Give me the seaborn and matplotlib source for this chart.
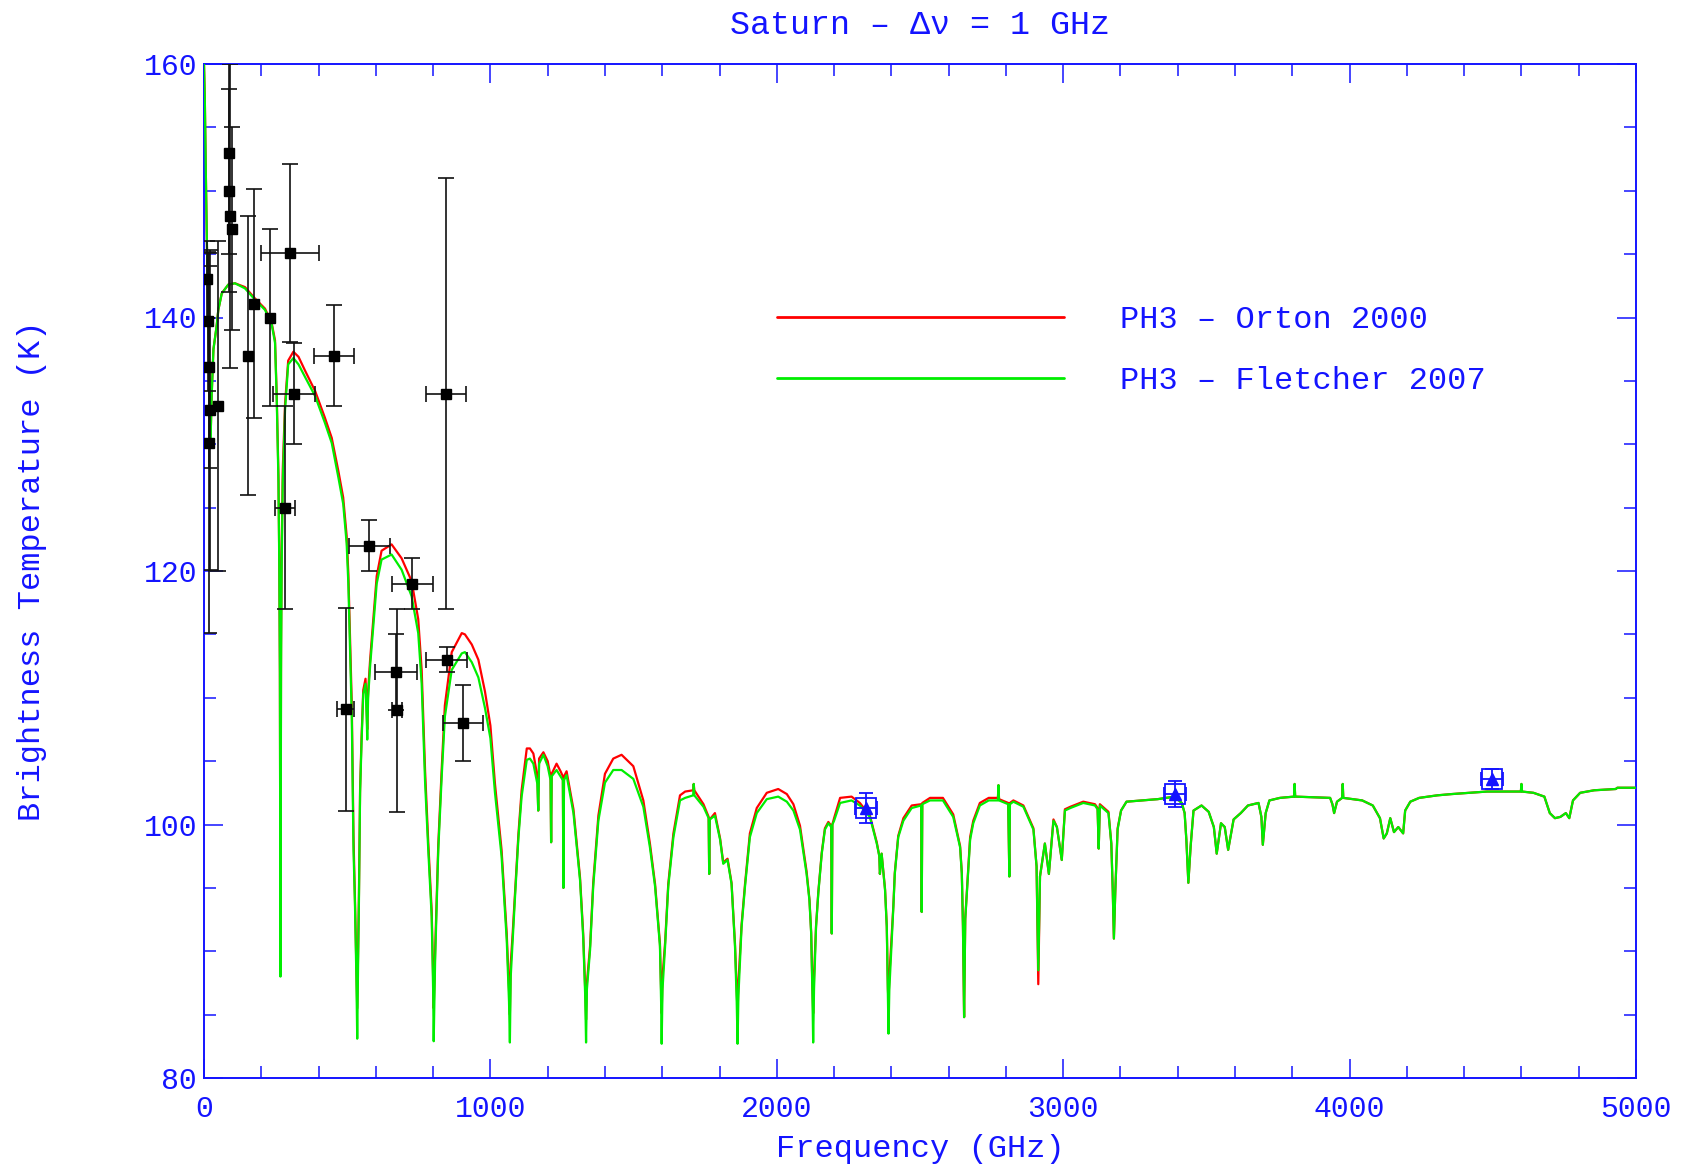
import matplotlib
matplotlib.use("Agg")
import matplotlib.pyplot as plt
import numpy as np
import pandas as pd
import seaborn as sns
from matplotlib.ticker import MultipleLocator

# ---------------- data ----------------
freq_ghz = [0, 3, 6, 10, 15, 20, 23, 27, 33, 44, 50, 62, 85, 108, 143, 178, 213, 236, 248, 254,
            260, 263, 265, 266, 267, 268, 269, 271, 275, 283, 294, 312, 330, 353, 388, 422, 446, 469, 486, 498,
            504, 510, 516, 522, 527, 532, 535, 538, 541, 545, 550, 556, 564, 568, 570, 573, 580, 603, 620, 655,
            690, 725, 748, 760, 772, 783, 795, 800, 802, 805, 807, 818, 830, 841, 865, 900, 911, 935, 958, 981,
            1000, 1016, 1039, 1057, 1065, 1068, 1071, 1078, 1086, 1098, 1109, 1127, 1138, 1150, 1164, 1167, 1170, 1185, 1200, 1210,
            1212, 1214, 1231, 1245, 1253, 1255, 1257, 1266, 1290, 1313, 1324, 1331, 1334, 1337, 1348, 1359, 1377, 1400, 1429, 1458,
            1499, 1534, 1557, 1575, 1592, 1596, 1598, 1601, 1610, 1621, 1639, 1662, 1680, 1708, 1710, 1712, 1744, 1762, 1764, 1766,
            1784, 1802, 1813, 1828, 1842, 1854, 1860, 1863, 1866, 1877, 1889, 1906, 1930, 1965, 2005, 2035, 2058, 2081, 2104, 2114,
            2120, 2124, 2127, 2130, 2137, 2145, 2157, 2168, 2180, 2190, 2192, 2194, 2200, 2221, 2261, 2290, 2325, 2349, 2358, 2360,
            2366, 2378, 2384, 2388, 2390, 2393, 2407, 2412, 2424, 2442, 2471, 2504, 2506, 2508, 2535, 2580, 2616, 2640, 2646, 2650,
            2654, 2658, 2675, 2686, 2709, 2740, 2772, 2774, 2776, 2808, 2812, 2814, 2826, 2861, 2896, 2907, 2913, 2919, 2936, 2950,
            2966, 2978, 2995, 3006, 3025, 3070, 3111, 3120, 3124, 3128, 3158, 3168, 3173, 3177, 3182, 3190, 3202, 3221, 3330, 3389,
            3414, 3424, 3430, 3437, 3445, 3455, 3483, 3508, 3526, 3536, 3551, 3564, 3576, 3595, 3620, 3645, 3682, 3692, 3697, 3707,
            3720, 3757, 3806, 3808, 3810, 3932, 3940, 3946, 3956, 3974, 3976, 3978, 4044, 4081, 4106, 4119, 4130, 4142, 4155, 4170,
            4187, 4194, 4212, 4243, 4306, 4356, 4480, 4598, 4600, 4602, 4642, 4680, 4699, 4717, 4736, 4755, 4767, 4780, 4805, 4854,
            4929, 4935, 5000]

tb_fletcher = [160, 157, 152, 146, 140, 133, 130.5, 134, 137.5, 139.3, 140.6, 141.9, 142.6, 142.7, 142.3, 141.4, 140.6, 139.5, 138, 133.5,
               127, 120, 112, 100, 88, 100, 112, 120, 127, 132.7, 136.3, 136.8, 136.3, 135.3, 133.8, 131.7, 130.1, 127.4, 125.3, 122.2,
               119, 113.8, 108.5, 98, 93.8, 88, 83.1, 89, 94, 102.5, 106.4, 110.3, 111.1, 108.5, 106.7, 110, 112.5, 119, 120.9, 121.3,
               120.1, 118, 115.1, 111.1, 103.3, 98, 92.7, 87, 82.9, 87, 89.3, 98, 103.8, 108.5, 112.2, 113.5, 113.6, 112.8, 111.6, 109.2,
               106.8, 102.5, 97.5, 90.9, 86, 82.8, 88, 91, 94.3, 99, 102.2, 105.1, 105.2, 104.8, 103.2, 101.1, 104.8, 105.5, 104.6, 103.5,
               98.6, 103.8, 104.3, 103.8, 103.5, 95, 103.5, 103.9, 100.9, 95.6, 91.1, 86.5, 82.8, 87, 90.1, 95.1, 100.3, 103.3, 104.3, 104.3,
               103.6, 101.4, 98.2, 95.1, 90.4, 86, 82.7, 87, 90.4, 95.1, 99, 101.9, 102.1, 102.3, 103.2, 102.3, 101.4, 100.5, 96.1, 100.4,
               100.7, 98.8, 96.9, 97.2, 95.3, 90.4, 86, 82.7, 86.5, 91.9, 95.1, 99, 100.9, 102, 102.2, 101.8, 101.1, 99.6, 96.1, 94,
               91.4, 87, 82.8, 87, 91.9, 94.6, 97.7, 99.6, 100.1, 99.8, 91.4, 100, 100.3, 101.7, 101.9, 101.5, 100.6, 98.5, 97.5, 96.1,
               97.7, 94.8, 91.9, 86, 83.5, 87, 93.5, 96.1, 99, 100.3, 101.3, 101.5, 93.1, 101.6, 101.9, 101.9, 100.6, 98.2, 96.1, 91.9,
               84.8, 92.5, 98.8, 100.1, 101.5, 101.9, 101.9, 103.1, 101.9, 101.6, 95.9, 101.6, 101.8, 101.4, 99.6, 96.7, 88.5, 95.9, 98.5, 96.1,
               100.3, 99.8, 97.2, 101.1, 101.3, 101.7, 101.5, 101.2, 98.1, 101.5, 100.9, 98.5, 94.8, 91, 94.8, 99.6, 101.1, 101.8, 102, 102.2,
               101.7, 100.9, 98.8, 95.4, 98.3, 101.1, 101.5, 101, 99.8, 97.7, 100.1, 99.8, 98, 100.4, 100.9, 101.5, 101.7, 100.6, 98.4, 100.9,
               101.9, 102.1, 102.2, 103.2, 102.2, 102.1, 101.6, 100.9, 101.8, 102.1, 103.2, 102.1, 101.9, 101.5, 100.5, 98.9, 99.3, 100.5, 99.4, 99.8,
               99.3, 101.1, 101.8, 102.1, 102.3, 102.4, 102.6, 102.6, 103.2, 102.6, 102.5, 102.2, 100.9, 100.5, 100.6, 100.9, 100.5, 101.9, 102.5, 102.7,
               102.8, 102.9, 102.9]

tb_orton = [160, 157, 152, 146, 140, 133, 130.5, 134, 137.5, 139.3, 140.6, 141.9, 142.6, 142.7, 142.4, 141.5, 140.7, 139.6, 138.2, 133.8,
            127.5, 120.5, 112, 100, 88.3, 100, 114, 121, 128, 133.2, 136.6, 137.3, 136.9, 135.8, 134.2, 132.1, 130.5, 127.9, 125.8, 122.8,
            119.8, 114.8, 109.5, 99, 94.2, 89, 85.5, 90, 94.5, 102.8, 106.8, 110.6, 111.5, 109, 107.5, 110.5, 113, 119.6, 121.6, 122.1,
            121, 119.2, 116.2, 112.2, 104.2, 98.6, 93.2, 88, 85.5, 88, 90, 98.4, 104.4, 109.4, 113.6, 115.1, 115, 114.2, 113, 110.5,
            107.8, 103.2, 98, 91.4, 87, 85, 89, 91.5, 94.6, 99.3, 102.7, 106, 106, 105.6, 103.8, 101.1, 105.2, 105.7, 105, 103.8,
            98.6, 104, 104.8, 104.2, 103.8, 95, 103.8, 104.2, 101.2, 95.8, 91.4, 87, 84.6, 87.5, 90.4, 95.4, 100.7, 104, 105.2, 105.5,
            104.6, 101.9, 98.5, 95.3, 90.6, 87, 85.1, 88, 90.7, 95.3, 99.3, 102.3, 102.6, 102.7, 103.2, 102.7, 101.6, 100.6, 96.1, 100.4,
            100.9, 98.9, 97, 97.3, 95.4, 90.6, 87, 85.1, 87.5, 92.1, 95.3, 99.3, 101.3, 102.5, 102.8, 102.4, 101.6, 99.9, 96.3, 94.1,
            91.5, 87.5, 85.1, 88, 92, 94.7, 97.8, 99.7, 100.2, 99.9, 91.4, 100, 100.5, 102.1, 102.2, 101.7, 100.7, 98.6, 97.5, 96.1,
            97.7, 94.9, 92, 87, 86, 88, 93.6, 96.2, 99.1, 100.5, 101.5, 101.6, 93.1, 101.7, 102.1, 102.1, 100.8, 98.3, 96.2, 92,
            84.8, 92.6, 99, 100.3, 101.7, 102.1, 102.1, 103.1, 102, 101.7, 95.9, 101.7, 101.9, 101.5, 99.7, 96.7, 87.4, 95.9, 98.5, 96.1,
            100.4, 99.8, 97.2, 101.2, 101.4, 101.8, 101.6, 101.3, 98.1, 101.6, 101, 98.5, 94.8, 91, 94.8, 99.7, 101.1, 101.8, 102, 102.2,
            101.7, 100.9, 98.8, 95.4, 98.3, 101.1, 101.5, 101, 99.8, 97.7, 100.1, 99.8, 98, 100.4, 100.9, 101.5, 101.7, 100.6, 98.4, 100.9,
            101.9, 102.1, 102.2, 103.2, 102.2, 102.1, 101.6, 100.9, 101.8, 102.1, 103.2, 102.1, 101.9, 101.5, 100.5, 98.9, 99.3, 100.5, 99.4, 99.8,
            99.3, 101.1, 101.8, 102.1, 102.3, 102.4, 102.6, 102.6, 103.2, 102.6, 102.5, 102.2, 100.9, 100.5, 100.6, 100.9, 100.5, 101.9, 102.5, 102.7,
            102.8, 102.9, 102.9]

# ground-based / space observations (black squares)
obs_freq = [12, 15, 18, 22, 16, 50, 86, 88, 90, 97, 155, 175, 230, 300, 314, 284, 454, 495, 577, 670, 675, 727, 848, 845, 905]
obs_tb = [143.0, 139.7, 136.1, 132.7, 130.1, 133.0, 153.0, 150.0, 148.0, 147.0, 137.0, 141.1, 140.0, 145.1, 134.0, 125.0, 137.0,
          109.1, 122.0, 112.0, 109.0, 119.0, 113.0, 134.0, 108.0]
obs_freq_err = [0, 0, 0, 0, 0, 0, 0, 0, 0, 0, 0, 0, 0, 102, 72, 35, 70, 30, 72, 72, 18, 72, 72, 70, 70]
obs_tb_err = [3, 5.5, 8, 12.6, 15, 13, 8, 8, 12, 8, 11, 9, 7, 7, 4, 8, 4, 8, 2, 3, 8, 2, 1, 17, 3]

# ISO measurements (blue)
iso_freq = [2311, 3390, 4498]
iso_tb = [101.3, 102.4, 103.6]
iso_freq_err = [38, 38, 38]
iso_tb_err = [1.2, 1.0, 0.8]

series_labels = ["PH3 \u2013 Orton 2000", "PH3 \u2013 Fletcher 2007"]
title_text = "Saturn \u2013 \u0394\u03bd = 1 GHz"
xlabel_text = "Frequency (GHz)"
ylabel_text = "Brightness Temperature (K)"

# ---------------- style ----------------
BLUE = "#1414ff"
sns.set_theme(style="ticks")
plt.rcParams["font.family"] = ["Liberation Mono", "DejaVu Sans Mono"]

fig = plt.figure(figsize=(16.84, 11.68), dpi=100)
ax = fig.add_axes([204 / 1684, 1 - 1078 / 1168, (1636 - 204) / 1684, (1078 - 64) / 1168])

df = pd.DataFrame({"freq": freq_ghz, "orton": tb_orton, "fletcher": tb_fletcher})
sns.lineplot(data=df, x="freq", y="orton", color="#ff0000", lw=1.6, estimator=None, sort=False,
             label=series_labels[0], ax=ax, zorder=2)
sns.lineplot(data=df, x="freq", y="fletcher", color="#00ee00", lw=1.6, estimator=None, sort=False,
             label=series_labels[1], ax=ax, zorder=3)

# black observations
ofr = np.array(obs_freq, float)
otb = np.array(obs_tb, float)
ofe = np.array(obs_freq_err, float)
ote = np.array(obs_tb_err, float)
ax.errorbar(ofr, otb, yerr=ote, fmt="none", ecolor="#111111", elinewidth=1.2, capsize=5.5, capthick=1.2, zorder=5)
m = ofe > 0
ax.errorbar(ofr[m], otb[m], xerr=ofe[m], fmt="none", ecolor="#111111", elinewidth=1.2, capsize=5.5, capthick=1.2, zorder=5)
ax.plot(ofr, otb, "s", color="black", ms=6.5, zorder=6, linestyle="none")

# blue ISO points
ax.errorbar(iso_freq, iso_tb, xerr=iso_freq_err, yerr=iso_tb_err, fmt="none", ecolor=BLUE, elinewidth=1.3,
            capsize=5, capthick=1.3, zorder=6)
ax.plot(iso_freq, iso_tb, "s", mfc="none", mec=BLUE, mew=1.3, ms=15, zorder=7, linestyle="none")
ax.plot(iso_freq, iso_tb, "^", color=BLUE, ms=8, zorder=8, linestyle="none")

ax.set_xlim(0, 5000)
ax.set_ylim(80, 160)
ax.xaxis.set_major_locator(MultipleLocator(1000))
ax.xaxis.set_minor_locator(MultipleLocator(200))
ax.yaxis.set_major_locator(MultipleLocator(20))
ax.yaxis.set_minor_locator(MultipleLocator(5))
ax.tick_params(which="both", direction="in", top=True, right=True, color=BLUE, labelcolor=BLUE, width=1.1)
ax.tick_params(which="major", length=13.5, labelsize=21.5)
ax.tick_params(axis="x", which="major", pad=12)
ax.tick_params(axis="y", which="major", pad=5)
ax.tick_params(which="minor", length=8.3)
for s in ax.spines.values():
    s.set_color(BLUE)
    s.set_linewidth(1.4)
ax.set_xlabel("")
ax.set_ylabel("")

leg = ax.legend(loc="upper left", bbox_to_anchor=(0.4, 0.762), frameon=False, handlelength=9.0,
                handletextpad=1.75, labelspacing=0.97, fontsize=23, borderpad=0, borderaxespad=0,
                labelcolor=BLUE)
for h in leg.get_lines():
    h.set_linewidth(2.0)

cx = (204 + 1636) / 2 / 1684
fig.text(cx, 1 - 26 / 1168, title_text, ha="center", va="center", fontsize=24, color=BLUE)
fig.text(cx, 1 - 1149 / 1168, xlabel_text, ha="center", va="center", fontsize=23, color=BLUE)
fig.text(32 / 1684, 1 - 571 / 1168, ylabel_text, ha="center", va="center", rotation=90, fontsize=23, color=BLUE)

fig.savefig("out.png", dpi=100)
